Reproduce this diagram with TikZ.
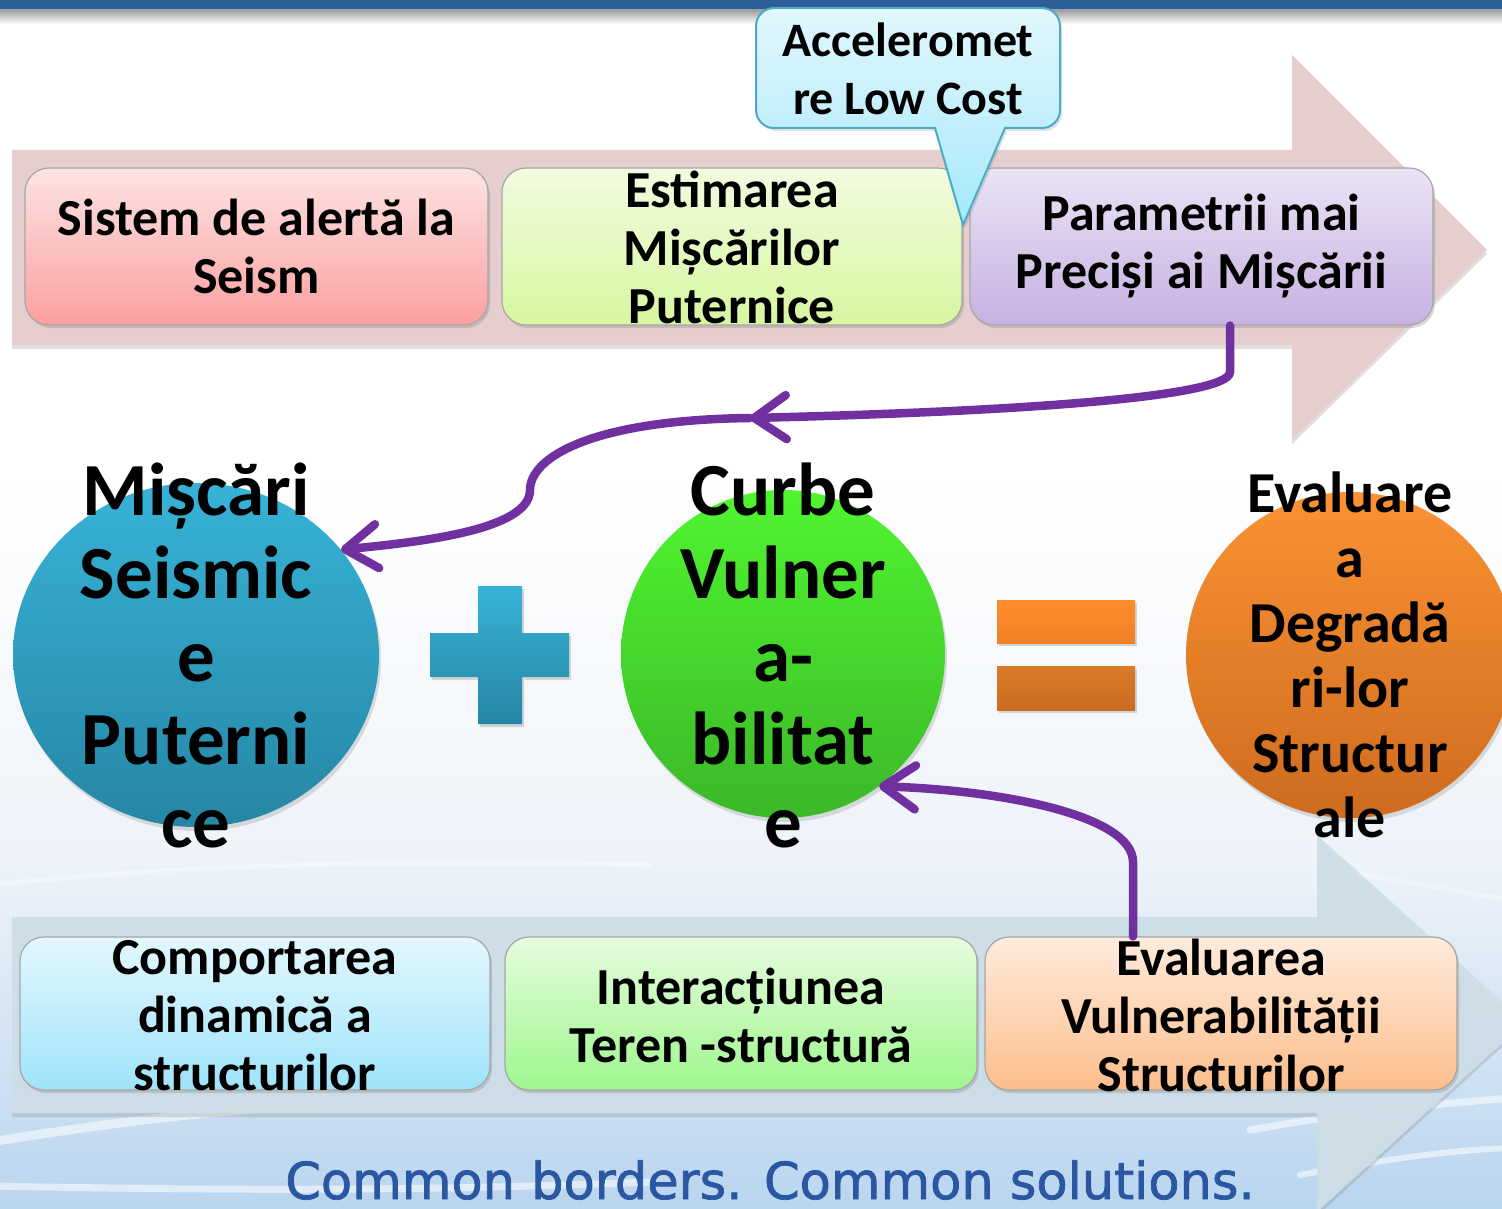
\documentclass[tikz,border=0pt]{standalone}
\usepackage{fontspec}
\setmainfont{Carlito}
\newfontfamily\footfont[FakeBold=1.5]{DejaVu Sans}
\usetikzlibrary{arrows.meta,shapes.geometric,shadows}
\definecolor{topbar}{HTML}{2E5E98}
\definecolor{arrA}{HTML}{E6CECE}
\definecolor{arrB}{HTML}{CEDFE8}
\definecolor{rA}{HTML}{FDE3E3}\definecolor{rB}{HTML}{FBA0A0}
\definecolor{gA}{HTML}{F2FBE0}\definecolor{gB}{HTML}{D6F7A0}
\definecolor{vA}{HTML}{EAE3F5}\definecolor{vB}{HTML}{C7B1E1}
\definecolor{cA}{HTML}{E2F7FD}\definecolor{cB}{HTML}{A5E8FA}\definecolor{cE}{HTML}{4BACC6}
\definecolor{blA}{HTML}{37B3D7}\definecolor{blB}{HTML}{2686A4}
\definecolor{grA}{HTML}{50F530}\definecolor{grB}{HTML}{3BB828}
\definecolor{orA}{HTML}{FB9233}\definecolor{orB}{HTML}{CE6B1E}
\definecolor{eqA}{HTML}{FF8D2B}\definecolor{eqB}{HTML}{F08226}
\definecolor{eqC}{HTML}{DA7B28}\definecolor{eqD}{HTML}{CB6B20}
\definecolor{kA}{HTML}{E3F7FE}\definecolor{kB}{HTML}{9FE3FA}
\definecolor{lA}{HTML}{E5FCDD}\definecolor{lB}{HTML}{9FF68E}
\definecolor{pA}{HTML}{FEEBDD}\definecolor{pB}{HTML}{FCBE8B}
\definecolor{purp}{HTML}{7030A0}
\definecolor{foot}{HTML}{2B57A2}
\definecolor{bgA}{HTML}{EEF3F9}\definecolor{bgB}{HTML}{B9D5EF}
\begin{document}
\begin{tikzpicture}[x=1pt,y=1pt,
  boxshape/.style={rounded corners=24pt, draw=black!35, line width=1.2pt, inner sep=0pt,
    drop shadow={opacity=0.3,shadow xshift=2pt,shadow yshift=-3pt}},
  boxtext/.style={align=center, font=\fontsize{52}{58}\selectfont\bfseries, inner sep=0pt},
  bigtext/.style={align=center, font=\fontsize{75}{83}\selectfont\bfseries, inner sep=0pt},
  midtext/.style={align=center, font=\fontsize{58}{65}\selectfont\bfseries, inner sep=0pt},
  ball/.style={ellipse, inner sep=0pt, drop shadow={opacity=0.25,shadow xshift=2pt,shadow yshift=-4pt}},
  bigarrow/.style={drop shadow={opacity=0.25,shadow xshift=0pt,shadow yshift=-4pt}},
  streak/.style={white, line cap=round, opacity=0.55},
  conn/.style={draw=purp, line width=8.5pt, line cap=round, line join=round,
    -{Straight Barb[length=32pt,width=44pt,round]}},
]
\useasboundingbox (0,0) rectangle (1502,-1209);
% background
\fill[white] (0,0) rectangle (1502,-1209);
\shade[top color=white, bottom color=bgA] (0,-470) rectangle (1502,-860);
\shade[top color=bgA, bottom color=bgB] (0,-860) rectangle (1502,-1209);
\draw[streak, line width=9pt] (-10,-1142) .. controls (80,-1128) and (180,-1112) .. (330,-1104);
\draw[streak, line width=7pt] (-10,-1186) .. controls (200,-1190) and (400,-1192) .. (650,-1182);
\draw[streak, line width=5pt, opacity=0.4] (-10,-885) .. controls (150,-868) and (350,-858) .. (650,-865);
\draw[streak, line width=7pt] (1250,-1130) .. controls (1350,-1112) and (1430,-1105) .. (1510,-1098);
\draw[streak, line width=6pt] (1300,-1175) .. controls (1380,-1160) and (1450,-1150) .. (1510,-1148);
\draw[streak, line width=5pt, opacity=0.35] (1330,-870) .. controls (1400,-880) and (1450,-890) .. (1510,-900);
% top bar
\fill[topbar] (0,0) rectangle (1502,-9);
\fill[topbar!55] (0,-9) rectangle (1502,-11);
\shade[top color=black!35, bottom color=white] (0,-11) rectangle (1502,-24);
% big arrows
\fill[arrA, bigarrow] (12,-150) -- (1292,-150) -- (1292,-55) -- (1487,-250) -- (1292,-440) -- (1292,-345) -- (12,-345) -- cycle;
\fill[arrB, opacity=0.95, bigarrow] (12,-917) -- (1317,-917) -- (1317,-835) -- (1525,-1022) -- (1317,-1212) -- (1317,-1113) -- (12,-1113) -- cycle;
% top boxes
\node[boxshape, minimum width=463pt, minimum height=157pt, top color=rA, bottom color=rB] (b1) at (256.5,-246.5) {};
\node[boxshape, minimum width=460pt, minimum height=157pt, top color=gA, bottom color=gB] (b2) at (732,-246.5) {};
\node[boxshape, minimum width=463pt, minimum height=157pt, top color=vA, bottom color=vB] (b3) at (1201.5,-246.5) {};
\node[boxtext] (b1t) at (b1.center) {Sistem de alertă la\\Seism};
\node[boxtext] (b2t) at ([yshift=-1pt]b2.center) {Estimarea\\Mișcărilor\\Puternice};
\node[boxtext] (b3t) at (b3.center) {Parametrii mai\\Preciși ai Mișcării};
% bottom boxes
\node[boxshape, minimum width=470pt, minimum height=153pt, top color=kA, bottom color=kB] (d1) at (255,-1013.5) {};
\node[boxshape, minimum width=472pt, minimum height=153pt, top color=lA, bottom color=lB] (d2) at (741,-1013.5) {};
\node[boxshape, minimum width=472pt, minimum height=153pt, top color=pA, bottom color=pB] (d3) at (1221,-1013.5) {};
\node[boxtext] (d1t) at ([yshift=-2pt]d1.center) {Comportarea\\dinamică a\\structurilor};
\node[boxtext] (d2t) at ([yshift=-2pt]d2.center) {Interacțiunea\\Teren -structură};
\node[boxtext] (d3t) at ([yshift=-2pt]d3.center) {Evaluarea\\Vulnerabilității\\Structurilor};
% callout
\path[draw=cE, line width=2pt, top color=cA, bottom color=cB,
  drop shadow={opacity=0.25,shadow xshift=2pt,shadow yshift=-3pt}]
  (935,-128) -- (774,-128) arc[start angle=270,end angle=180,radius=18pt]
  -- (756,-26) arc[start angle=180,end angle=90,radius=18pt]
  -- (1042,-8) arc[start angle=90,end angle=0,radius=18pt]
  -- (1060,-110) arc[start angle=0,end angle=-90,radius=18pt]
  -- (1005,-128) -- (963,-225) -- cycle;
\node[boxtext, font=\fontsize{48}{58}\selectfont\bfseries] (acc) at (908,-69) {Acceleromet\\re Low Cost};
% circles
\node[ball, minimum width=366pt, minimum height=344pt, top color=blA, bottom color=blB] (c1) at (196,-655) {};
\node[ball, minimum width=324pt, minimum height=328pt, top color=grA, bottom color=grB] (c2) at (783,-654) {};
\node[ball, minimum width=328pt, minimum height=326pt, top color=orA, bottom color=orB] (c3) at (1350,-655) {};
\node[bigtext] (c1t) at (196,-655) {Mișcări\\Seismic\\e\\Puterni\\ce};
\node[bigtext] (c2t) at (783,-655) {Curbe\\Vulner\\a-\\bilitat\\e};
\node[midtext] (c3t) at (1350,-655) {Evaluare\\a\\Degradă\\ri-lor\\Structur\\ale};
% plus
\path[top color=blA, bottom color=blB, drop shadow={opacity=0.3,shadow xshift=2pt,shadow yshift=-3pt}]
  (478,-586) -- (522,-586) -- (522,-633) -- (569,-633) -- (569,-677) -- (522,-677)
  -- (522,-724) -- (478,-724) -- (478,-677) -- (430,-677) -- (430,-633) -- (478,-633) -- cycle;
% equals
\path[top color=eqA, bottom color=eqB, drop shadow={opacity=0.3,shadow xshift=2pt,shadow yshift=-3pt}]
  (997,-600) rectangle (1135,-643);
\path[top color=eqC, bottom color=eqD, drop shadow={opacity=0.3,shadow xshift=2pt,shadow yshift=-3pt}]
  (997,-666) rectangle (1135,-710);
% connectors
\coordinate (m1) at (750,-418);
\draw[conn] ([xshift=28.5pt]b3.south) -- (1230,-372) .. controls (1230,-398) and (1000,-412) .. (m1);
\draw[conn] (m1) .. controls (590,-420) and (530,-458) .. (530,-490)
  .. controls (530,-530) and (420,-542) .. (c1.36);
\draw[conn] ([xshift=-88pt]d3.north) -- (1133,-862) .. controls (1133,-815) and (1000,-790) .. (c2.-54);
% footer
\node[font=\footfont\fontsize{51}{60}\selectfont, text=foot, anchor=base, inner sep=0pt] (foot) at (770,-1199) {Common borders. Common solutions.};
\end{tikzpicture}
\end{document}
